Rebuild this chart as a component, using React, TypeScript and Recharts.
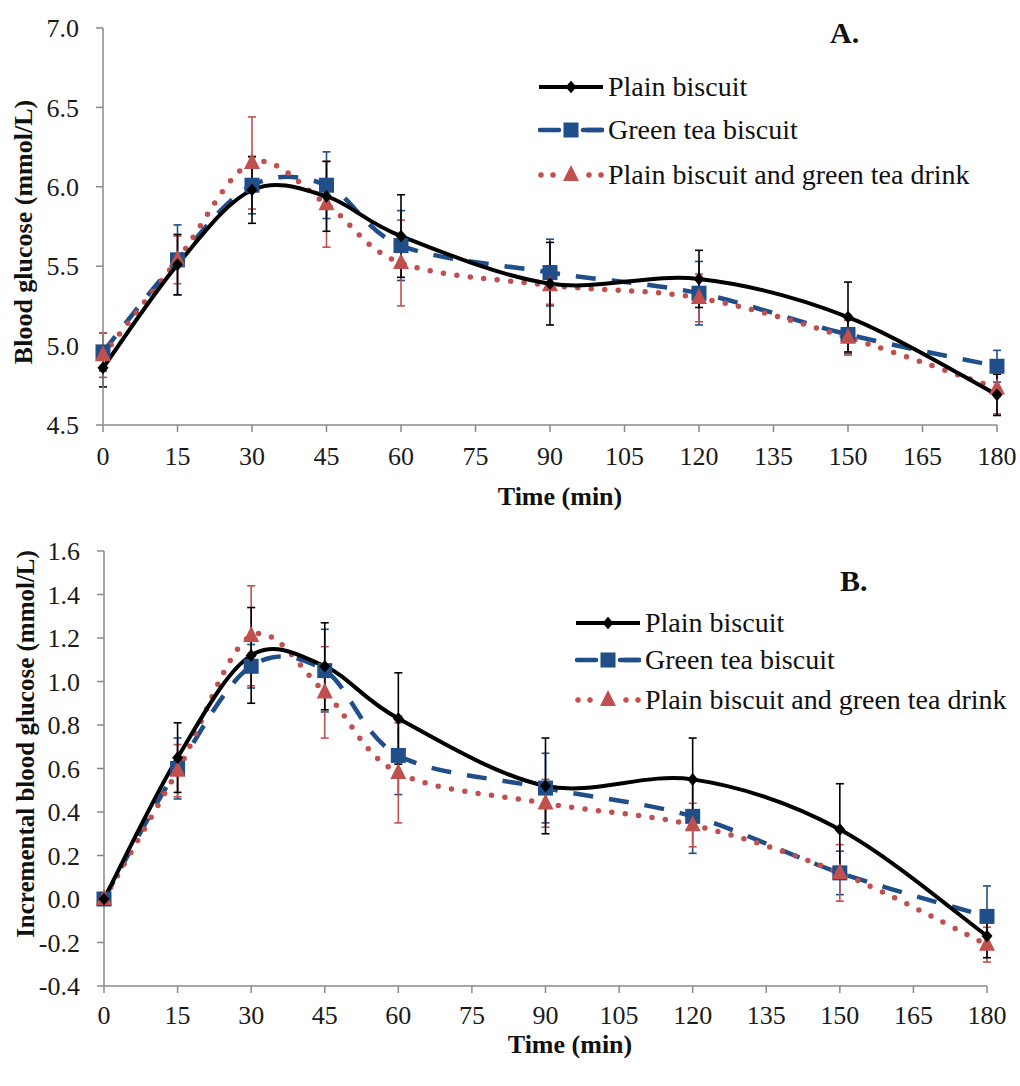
import React from 'react';
import { LineChart, Line, XAxis, YAxis, ErrorBar, Legend } from 'recharts';

// ---------- data ----------
const times = [0, 15, 30, 45, 60, 90, 120, 150, 180];
const xTicks = [0, 15, 30, 45, 60, 75, 90, 105, 120, 135, 150, 165, 180];

const seriesNames = ['Plain biscuit', 'Green tea biscuit', 'Plain biscuit and green tea drink'];

// Panel A: blood glucose (mmol/L)
const plainA = [4.86, 5.51, 5.98, 5.94, 5.69, 5.39, 5.42, 5.18, 4.69];
const plainAErr = [0.12, 0.19, 0.21, 0.22, 0.26, 0.26, 0.18, 0.22, 0.13];
const greenA = [4.96, 5.54, 6.01, 6.01, 5.63, 5.46, 5.33, 5.07, 4.87];
const greenAErr = [0.12, 0.22, 0.18, 0.21, 0.22, 0.21, 0.2, 0.12, 0.1];
const drinkA = [4.94, 5.54, 6.15, 5.89, 5.52, 5.38, 5.3, 5.05, 4.73];
const drinkAErr = [0.14, 0.15, 0.29, 0.27, 0.27, 0.12, 0.15, 0.11, 0.16];
const yTicksA = [4.5, 5.0, 5.5, 6.0, 6.5, 7.0];

// Panel B: incremental blood glucose (mmol/L)
const plainB = [0, 0.65, 1.12, 1.07, 0.83, 0.52, 0.55, 0.32, -0.17];
const plainBErr = [0, 0.16, 0.22, 0.2, 0.21, 0.22, 0.19, 0.21, 0.1];
const greenB = [0, 0.6, 1.07, 1.05, 0.66, 0.51, 0.38, 0.12, -0.08];
const greenBErr = [0, 0.14, 0.1, 0.19, 0.18, 0.16, 0.17, 0.1, 0.14];
const drinkB = [0, 0.59, 1.21, 0.95, 0.58, 0.44, 0.34, 0.12, -0.21];
const drinkBErr = [0, 0.12, 0.23, 0.21, 0.23, 0.11, 0.1, 0.13, 0.08];
const yTicksB = [-0.4, -0.2, 0, 0.2, 0.4, 0.6, 0.8, 1.0, 1.2, 1.4, 1.6];

const buildRows = (p: number[], pe: number[], g: number[], ge: number[], d: number[], de: number[]) =>
  times.map((t, i) => ({ t, p: p[i], pe: pe[i], g: g[i], ge: ge[i], d: d[i], de: de[i] }));

const dataA = buildRows(plainA, plainAErr, greenA, greenAErr, drinkA, drinkAErr);
const dataB = buildRows(plainB, plainBErr, greenB, greenBErr, drinkB, drinkBErr);

// ---------- styles ----------
const FONT = '"Liberation Serif", "Times New Roman", serif';
const BLACK = '#000000';
const BLUE = '#1F4E89';
const RED = '#C0504D';
const AXIS = '#8a8a8a';

// Excel-like smoothing (Catmull-Rom as cubic Bezier)
function excelCurve(context: any) {
  let pts: number[][] = [];
  return {
    areaStart() {},
    areaEnd() {},
    lineStart() {
      pts = [];
    },
    lineEnd() {
      const n = pts.length;
      if (!n) return;
      context.moveTo(pts[0][0], pts[0][1]);
      for (let i = 0; i < n - 1; i++) {
        const p0 = pts[i - 1] || pts[i];
        const p1 = pts[i];
        const p2 = pts[i + 1];
        const p3 = pts[i + 2] || p2;
        context.bezierCurveTo(
          p1[0] + (p2[0] - p0[0]) / 6,
          p1[1] + (p2[1] - p0[1]) / 6,
          p2[0] - (p3[0] - p1[0]) / 6,
          p2[1] - (p3[1] - p1[1]) / 6,
          p2[0],
          p2[1]
        );
      }
    },
    point(x: number, y: number) {
      pts.push([+x, +y]);
    },
  };
}

// ---------- markers ----------
const diamondPath = (cx: number, cy: number, r: number) =>
  `M${cx},${cy - r * 1.15}L${cx + r},${cy}L${cx},${cy + r * 1.15}L${cx - r},${cy}Z`;
const trianglePath = (cx: number, cy: number, s: number) =>
  `M${cx},${cy - s * 0.62}L${cx + s / 2},${cy + s * 0.38}L${cx - s / 2},${cy + s * 0.38}Z`;

const DiamondDot = (props: any) => {
  const { cx, cy, index } = props;
  if (cx == null || cy == null) return <g key={`dd-${index}`} />;
  return <path key={`dd-${index}`} d={diamondPath(cx, cy, 5.5)} fill={BLACK} />;
};
const SquareDot = (props: any) => {
  const { cx, cy, index } = props;
  if (cx == null || cy == null) return <g key={`sd-${index}`} />;
  return <rect key={`sd-${index}`} x={cx - 7.5} y={cy - 7.5} width={15} height={15} fill={BLUE} />;
};
const TriangleDot = (props: any) => {
  const { cx, cy, index } = props;
  if (cx == null || cy == null) return <g key={`td-${index}`} />;
  return <path key={`td-${index}`} d={trianglePath(cx, cy, 16)} fill={RED} />;
};

// ---------- labels ----------
const AxisTitle = (props: any) => {
  const { px, py, rot, text, size } = props;
  return (
    <text
      x={px}
      y={py}
      transform={rot ? `rotate(${rot}, ${px}, ${py})` : undefined}
      textAnchor="middle"
      dominantBaseline={rot ? 'central' : 'auto'}
      fontFamily={FONT}
      fontWeight="bold"
      fontSize={size}
      fill="#111"
    >
      {text}
    </text>
  );
};

// ---------- legend ----------
const LegendSample = ({ kind }: { kind: number }) => {
  const w = 66;
  const h = 30;
  const c = h / 2;
  if (kind === 0) {
    return (
      <svg width={w} height={h} style={{ display: 'block' }}>
        <line x1={1} y1={c} x2={w - 1} y2={c} stroke={BLACK} strokeWidth={4} />
        <path d={diamondPath(w / 2, c, 5.5)} fill={BLACK} />
      </svg>
    );
  }
  if (kind === 1) {
    return (
      <svg width={w} height={h} style={{ display: 'block' }}>
        <line x1={2} y1={c} x2={w - 2} y2={c} stroke={BLUE} strokeWidth={4.5} strokeDasharray="19 28" strokeLinecap="round" />
        <line x1={w - 21} y1={c} x2={w - 2} y2={c} stroke={BLUE} strokeWidth={4.5} strokeLinecap="round" />
        <rect x={w / 2 - 7.5} y={c - 7.5} width={15} height={15} fill={BLUE} />
      </svg>
    );
  }
  return (
    <svg width={w} height={h} style={{ display: 'block' }}>
      <line x1={3} y1={c} x2={w - 2} y2={c} stroke={RED} strokeWidth={5.5} strokeDasharray="0 12" strokeLinecap="round" />
      <rect x={w / 2 - 10} y={c - 10} width={20} height={20} fill="#fff" />
      <path d={trianglePath(w / 2, c, 16)} fill={RED} />
    </svg>
  );
};

const LegendBox = ({ title, titleLeft, titleCenter, rowCenters }: any) => (
  <div style={{ position: 'relative', width: 480, height: 200, fontFamily: FONT, color: '#111' }}>
    <div
      style={{
        position: 'absolute',
        left: titleLeft,
        top: titleCenter - 20,
        height: 40,
        lineHeight: '40px',
        fontSize: 30,
        fontWeight: 'bold',
      }}
    >
      {title}
    </div>
    {seriesNames.map((name, i) => (
      <div
        key={name}
        style={{
          position: 'absolute',
          left: 0,
          top: rowCenters[i] - 20,
          height: 40,
          display: 'flex',
          alignItems: 'center',
          whiteSpace: 'nowrap',
        }}
      >
        <LegendSample kind={i} />
        <span style={{ fontSize: 28, lineHeight: '40px', marginLeft: 4 }}>{name}</span>
      </div>
    ))}
  </div>
);

// ---------- panel ----------
const Panel = ({
  data,
  width,
  height,
  margin,
  xAxisHeight,
  yAxisWidth,
  domain,
  yTicks,
  yTitle,
  yTitleSize,
  yTitlePos,
  xTitlePos,
  xTickMargin,
  legendLeft,
  legend,
}: any) => (
  <LineChart width={width} height={height} data={data} margin={margin}>
    <XAxis
      dataKey="t"
      type="number"
      domain={[0, 180]}
      ticks={xTicks}
      interval={0}
      height={xAxisHeight}
      axisLine={{ stroke: AXIS, strokeWidth: 1.5 }}
      tickLine={{ stroke: AXIS, strokeWidth: 1.5 }}
      tickSize={7}
      tickMargin={xTickMargin}
      tick={{ fill: '#1a1a1a', fontSize: 26, fontFamily: FONT }}
      label={<AxisTitle px={xTitlePos[0]} py={xTitlePos[1]} text="Time (min)" size={26} />}
    />
    <YAxis
      type="number"
      domain={domain}
      ticks={yTicks}
      interval={0}
      width={yAxisWidth}
      allowDataOverflow
      axisLine={{ stroke: AXIS, strokeWidth: 1.5 }}
      tickLine={{ stroke: AXIS, strokeWidth: 1.5 }}
      tickSize={7}
      tickMargin={17}
      tickFormatter={(v: number) => v.toFixed(1)}
      tick={{ fill: '#1a1a1a', fontSize: 26, fontFamily: FONT }}
      label={<AxisTitle px={yTitlePos[0]} py={yTitlePos[1]} rot={-90} text={yTitle} size={yTitleSize} />}
    />
    <Legend
      layout="horizontal"
      align="center"
      verticalAlign="middle"
      wrapperStyle={{ left: legendLeft, top: 0, width: 480, height: 200 }}
      content={() => legend}
    />
    <Line
      dataKey="g"
      type={excelCurve as any}
      stroke={BLUE}
      strokeWidth={4.5}
      strokeDasharray="20 16"
      dot={SquareDot}
      activeDot={false}
      isAnimationActive={false}
      legendType="none"
    >
      <ErrorBar dataKey="ge" direction="y" width={4} stroke={BLUE} strokeWidth={1.6} isAnimationActive={false} />
    </Line>
    <Line
      dataKey="d"
      type={excelCurve as any}
      stroke={RED}
      strokeWidth={5.5}
      strokeDasharray="0 13.5"
      strokeLinecap="round"
      dot={TriangleDot}
      activeDot={false}
      isAnimationActive={false}
      legendType="none"
    >
      <ErrorBar dataKey="de" direction="y" width={4} stroke={RED} strokeWidth={1.6} isAnimationActive={false} />
    </Line>
    <Line
      dataKey="p"
      type={excelCurve as any}
      stroke={BLACK}
      strokeWidth={4}
      dot={DiamondDot}
      activeDot={false}
      isAnimationActive={false}
      legendType="none"
    >
      <ErrorBar dataKey="pe" direction="y" width={4} stroke={BLACK} strokeWidth={1.6} isAnimationActive={false} />
    </Line>
  </LineChart>
);

export default function App() {
  return (
    <div style={{ position: 'absolute', left: 0, top: 0, width: 1020, height: 1086, background: '#fff', fontFamily: FONT }}>
      <div style={{ position: 'absolute', left: 0, top: 0 }}>
        <Panel
          data={dataA}
          width={1020}
          height={530}
          margin={{ top: 28, right: 23, bottom: 0, left: 0 }}
          xAxisHeight={105}
          yAxisWidth={103}
          domain={[4.5, 7.0]}
          yTicks={yTicksA}
          yTitle="Blood glucose (mmol/L)"
          yTitleSize={26}
          yTitlePos={[23, 232]}
          xTitlePos={[560, 505]}
          xTickMargin={15}
          legendLeft={538}
          legend={<LegendBox title="A." titleLeft={292} titleCenter={33} rowCenters={[87, 130, 175]} />}
        />
      </div>
      <div style={{ position: 'absolute', left: 0, top: 530 }}>
        <Panel
          data={dataB}
          width={1020}
          height={556}
          margin={{ top: 21, right: 33, bottom: 0, left: 0 }}
          xAxisHeight={100}
          yAxisWidth={104}
          domain={[-0.4, 1.6]}
          yTicks={yTicksB}
          yTitle="Incremental blood glucose (mmol/L)"
          yTitleSize={25}
          yTitlePos={[25, 214]}
          xTitlePos={[570, 523]}
          xTickMargin={13}
          legendLeft={575}
          legend={<LegendBox title="B." titleLeft={265} titleCenter={51} rowCenters={[93, 130, 170]} />}
        />
      </div>
    </div>
  );
}
